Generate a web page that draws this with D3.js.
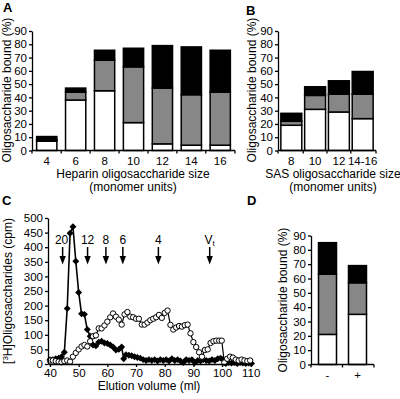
<!DOCTYPE html>
<html><head><meta charset="utf-8">
<script src="https://cdn.jsdelivr.net/npm/d3@7"></script>
<style>
html,body{margin:0;padding:0;background:#fff;}
svg{display:block;font-family:"Liberation Sans",Arial,sans-serif;}
</style></head>
<body>
<script>
// ---- Data ----
const heparinCats = ["4","6","8","10","12","14","16"];
const heparinWhite = [7, 38, 45, 21, 5, 4, 4];
const heparinGray  = [1, 6, 23, 42, 42, 38, 40];
const heparinBlack = [2.5, 3, 7.5, 14, 32, 36, 31.5];

const sasCats = ["8","10","12","14-16"];
const sasWhite = [19, 31, 29, 24];
const sasGray  = [3, 10.5, 13.5, 18.5];
const sasBlack = [6, 6.5, 10, 17];

const dCats = ["-","+"];
const dWhite = [21, 35];
const dGray  = [42, 22];
const dBlack = [22, 12];

const barTicks = [0,10,20,30,40,50,60,70,80,90];

const filledX = [40,41,42,43,44,45,46,47,48,49,50,51,52,53,54,55,56,57,58,59,60,61,62,63,64,65,65.7,66.5,67.5,68.5,69.5,70.5,71.5,72.5,73.5,74.5,75.5,76.5,77.5,78.5,79.5,80.5,81.5,82.5,83.5,84.5,85.5,86.5,87.5,88.5,89.5,90.5,91.5,92.5,93.5,94.5,95.5,96.5,97.5,98.5,99.5,100.3,101.3,102.3,103.3,104.3,105.3,106.3,107.3,108.3,109.3,110.3];
const filledY = [15,15,18,20,25,40,190,448,470,352,245,172,170,118,95,65,62,75,78,72,70,65,58,48,50,58,18,32,30,28,25,22,20,15,12,15,12,15,10,15,12,15,10,18,12,15,10,5,15,12,15,5,12,10,15,12,10,15,12,18,20,15,2,5,3,5,2,5,3,2,3,2];

const openX = [40,41,42,43,44,45,46,47,48,49,50,51,52,53,54,55,56,57,58,59,60,61,62,63,64,65,66,67,68,69,70,71,72,73,74,75,76,77,78,79,80,81,82,83,84,85,86,87,88,89,90,91,92,93,94,95,96,97,98,99,99.9,100.8,101.8,102.8,103.8,104.8,105.8,106.8,107.8,108.8,109.8];
const openY = [12,12,10,8,6,10,12,8,25,38,50,60,65,60,78,95,98,122,122,132,145,160,173,162,152,135,170,178,162,160,155,155,135,135,142,150,155,160,168,158,175,183,134,118,125,130,128,133,135,105,75,58,40,25,48,50,72,78,80,80,80,5,18,25,22,15,12,15,12,10,12];

const cTicksY = [0,50,100,150,200,250,300,350,400,450,500];
const cTicksX = [40,50,60,70,80,90,100,110];
const markerLabels = ["20","12","8","6","4","Vt"];
const markerPos = [44.4, 53.1, 59.5, 65.4, 77.8, 95.7];

// ---- Drawing ----
const svg = d3.select("body").append("svg").attr("width",400).attr("height",399);
const GRAY = "#878787";

function axisStyle(sel){
  sel.selectAll("path,line").attr("stroke","#000").attr("stroke-width",1.3);
  sel.selectAll("text").attr("font-size","11.5px").attr("fill","#000").attr("font-family","'Liberation Sans',Arial,sans-serif");
}

function barPanel(cats, w, g, b, x0, x1, y0, y1, padIn, padOut){
  const x = d3.scaleBand().domain(cats).range([x0,x1]).paddingInner(padIn).paddingOuter(padOut);
  const y = d3.scaleLinear().domain([0,90]).range([y0,y1]);
  const grp = svg.append("g");
  cats.forEach((c,i)=>{
    const segs = [[0,w[i],"#fff"],[w[i],w[i]+g[i],GRAY],[w[i]+g[i],w[i]+g[i]+b[i],"#000"]];
    segs.forEach(s=>{
      grp.append("rect").attr("x",x(c)).attr("width",x.bandwidth())
        .attr("y",y(s[1])).attr("height",y(s[0])-y(s[1]))
        .attr("fill",s[2]).attr("stroke","#000").attr("stroke-width",1.5);
    });
  });
  const ya = svg.append("g").attr("transform",`translate(${x0},0)`)
    .call(d3.axisLeft(y).tickValues(barTicks).tickSize(3).tickPadding(2).tickSizeOuter(0));
  axisStyle(ya);
  const xa = svg.append("g").attr("transform",`translate(0,${y0})`);
  xa.append("line").attr("x1",x0).attr("x2",x1).attr("y1",0).attr("y2",0).attr("stroke","#000").attr("stroke-width",1.3);
  const bounds = [x0];
  cats.forEach((c,i)=>{ if(i<cats.length-1) bounds.push((x(c)+x.bandwidth()+x(cats[i+1]))/2); });
  bounds.push(x1);
  bounds.forEach(bx=>xa.append("line").attr("x1",bx).attr("x2",bx).attr("y1",0).attr("y2",3).attr("stroke","#000").attr("stroke-width",1.3));
  cats.forEach(c=>xa.append("text").attr("x",x(c)+x.bandwidth()/2).attr("y",14.5).attr("text-anchor","middle")
    .attr("font-size","11.5px").text(c));
  return {x,y};
}

barPanel(heparinCats, heparinWhite, heparinGray, heparinBlack, 32, 235, 150.5, 31, 0.3, 0.16);
barPanel(sasCats, sasWhite, sasGray, sasBlack, 278, 376, 150.5, 31, 0.12, 0.12);
barPanel(dCats, dWhite, dGray, dBlack, 311, 374, 364.5, 235.5, 0.4, 0.25);

function text(x,y,s,opts={}){
  const t = svg.append("text").attr("x",x).attr("y",y).attr("font-size",opts.size||"12px")
    .attr("text-anchor",opts.anchor||"middle").attr("font-weight",opts.bold?"bold":"normal").text(s);
  if(opts.rot) t.attr("transform",`rotate(-90,${x},${y})`);
  return t;
}
// panel letters
text(3,12,"A",{anchor:"start",bold:true,size:"13px"});
text(246,15,"B",{anchor:"start",bold:true,size:"13px"});
text(2,205,"C",{anchor:"start",bold:true,size:"13px"});
text(247,205,"D",{anchor:"start",bold:true,size:"13px"});

// axis titles
text(11,90,"Oligosaccharide bound (%)",{rot:true});
text(256,90,"Oligosaccharide bound (%)",{rot:true});
text(287,300,"Oligosaccharide bound (%)",{rot:true});
text(133,177.5,"Heparin oligosaccharide size");
text(133,190.5,"(monomer units)");
text(333,177.5,"SAS oligosaccharide size");
text(333,190.5,"(monomer units)");
text(149,389.5,"Elution volume (ml)");
const cy = svg.append("text").attr("transform","translate(12,291) rotate(-90)").attr("text-anchor","middle").attr("font-size","12px");
cy.append("tspan").text("[");
cy.append("tspan").attr("font-size","8px").attr("dy",-4).text("3");
cy.append("tspan").attr("dy",4).text("H]Oligosaccharides (cpm)");

// ---- Panel C ----
const xc = d3.scaleLinear().domain([39.3,110]).range([48,250.7]);
const yc = d3.scaleLinear().domain([0,500]).range([364,218]);
const line = d3.line().x(d=>xc(d[0])).y(d=>yc(d[1]));
const filled = filledX.map((v,i)=>[v,filledY[i]]);
const open = openX.map((v,i)=>[v,openY[i]]);

svg.append("path").datum(filled).attr("d",line).attr("fill","none").attr("stroke","#000").attr("stroke-width",1.6);
svg.append("g").selectAll("path").data(filled).join("path")
  .attr("d",d3.symbol(d3.symbolSquare, 24))
  .attr("transform",d=>`translate(${xc(d[0])},${yc(d[1])}) rotate(45)`).attr("fill","#000");
svg.append("path").datum(open).attr("d",line).attr("fill","none").attr("stroke","#000").attr("stroke-width",1.2);
svg.append("g").selectAll("circle").data(open).join("circle")
  .attr("cx",d=>xc(d[0])).attr("cy",d=>yc(d[1])).attr("r",2.7)
  .attr("fill","#fff").attr("stroke","#000").attr("stroke-width",1);

const cya = svg.append("g").attr("transform","translate(48,0)")
  .call(d3.axisLeft(yc).tickValues(cTicksY).tickSize(3).tickPadding(2).tickSizeOuter(0));
axisStyle(cya);
const cxa = svg.append("g").attr("transform","translate(0,364)")
  .call(d3.axisBottom(xc).tickValues(cTicksX).tickSize(3).tickPadding(2).tickSizeOuter(0));
axisStyle(cxa);

// arrows
markerPos.forEach((m,i)=>{
  const ax = xc(m);
  const g = svg.append("g");
  g.append("line").attr("x1",ax).attr("x2",ax).attr("y1",247).attr("y2",258).attr("stroke","#000").attr("stroke-width",1.5);
  g.append("path").attr("d",`M${ax-3.2},256 L${ax+3.2},256 L${ax},264.5 Z`).attr("fill","#000");
  const lab = markerLabels[i];
  if(lab==="Vt"){
    const t = g.append("text").attr("x",ax).attr("y",244).attr("text-anchor","middle").attr("font-size","12px");
    t.append("tspan").text("V");
    t.append("tspan").attr("font-size","8px").attr("dy",2).text("t");
  } else {
    g.append("text").attr("x",lab==="20"?ax-1:ax).attr("y",244).attr("text-anchor","middle").attr("font-size","12px").text(lab);
  }
});
</script>
</body></html>
